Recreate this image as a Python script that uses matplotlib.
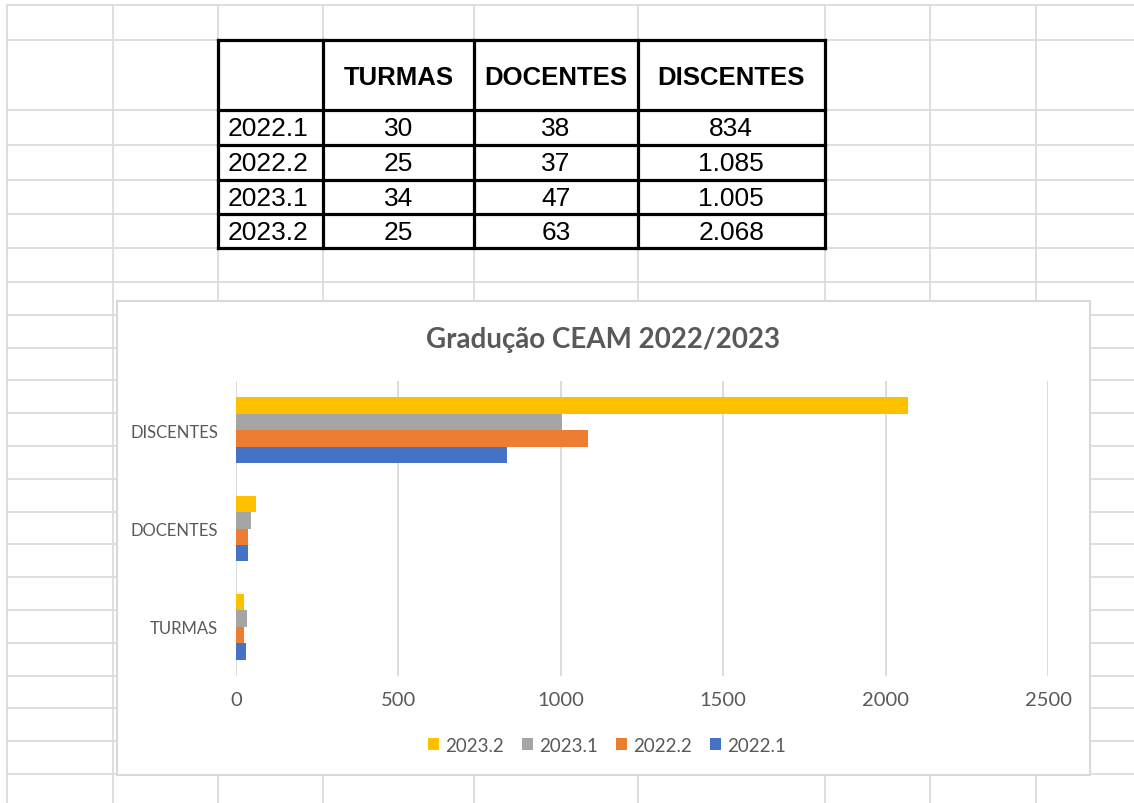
import matplotlib.pyplot as plt
from matplotlib.patches import Rectangle

# Dados da tabela / grafico
semestres = ["2022.1", "2022.2", "2023.1", "2023.2"]
colunas = ["TURMAS", "DOCENTES", "DISCENTES"]
turmas = [30, 25, 34, 25]
docentes = [38, 37, 47, 63]
discentes = [834, 1085, 1005, 2068]
cores = ["#4472C4", "#ED7D31", "#A5A5A5", "#FFC000"]
xticks = [0, 500, 1000, 1500, 2000, 2500]

W, H = 1134, 804
fig = plt.figure(figsize=(W / 100, H / 100), dpi=100)

# fundo tipo planilha, em pixels
bg = fig.add_axes([0, 0, 1, 1])
bg.set_xlim(0, W)
bg.set_ylim(H, 0)
bg.axis("off")

grid_c = "#dcdcdc"
linhas_y = [6, 41, 111, 146, 180.5, 214.5, 249, 283]
for k in range(1, 17):
    linhas_y.append(283 + 32.8 * k)
colunas_x = [7, 113, 218, 323, 474, 638, 825, 930, 1036]
for y in linhas_y:
    bg.plot([7, W], [y, y], color=grid_c, lw=1.3, zorder=1)
for x in colunas_x:
    bg.plot([x, x], [6, H], color=grid_c, lw=1.3, zorder=1)

# tabela
tx = [218, 323, 474, 638, 824.5]
ty = [40.7, 111, 146, 180.5, 214.5, 248.5]
bg.add_patch(Rectangle((tx[0], ty[0]), tx[-1] - tx[0], ty[-1] - ty[0],
                       facecolor="white", edgecolor="none", zorder=2))
for x in tx:
    bg.plot([x, x], [ty[0], ty[-1]], color="black", lw=2.3, zorder=3,
            solid_capstyle="projecting")
for y in ty:
    bg.plot([tx[0], tx[-1]], [y, y], color="black", lw=2.3, zorder=3,
            solid_capstyle="projecting")

for j, nome in enumerate(colunas):
    bg.text((tx[j + 1] + tx[j + 2]) / 2, (ty[0] + ty[1]) / 2 + 2, nome,
            ha="center", va="center", family="Liberation Sans",
            weight="bold", fontsize=18.5, zorder=4)

valores = [turmas, docentes, discentes]
for i, sem in enumerate(semestres):
    yc = (ty[i + 1] + ty[i + 2]) / 2 + 1
    bg.text(tx[0] + 10, yc, sem, ha="left", va="center",
            family="Liberation Sans", fontsize=19, zorder=4)
    for j in range(3):
        txt = f"{valores[j][i]:,}".replace(",", ".")
        bg.text((tx[j + 1] + tx[j + 2]) / 2, yc, txt, ha="center",
                va="center", family="Liberation Sans", fontsize=19, zorder=4)

# caixa do grafico
bg.add_patch(Rectangle((117, 302), 1090 - 117, 776 - 302, facecolor="white",
                       edgecolor="#d9d9d9", lw=1.5, zorder=5))

cinza = "#595959"
fig.text(603 / W, 1 - 340 / H, "Gradução CEAM 2022/2023", ha="center",
         va="center", family="Lato", weight="bold", fontsize=20, color=cinza)

ax = fig.add_axes([236 / W, 1 - 677 / H, (1048 - 236) / W, (677 - 382) / H])
ax.patch.set_alpha(0)
ax.set_zorder(6)

h = 1 / 6
dados = [[turmas[i], docentes[i], discentes[i]] for i in range(4)]
for i, sem in enumerate(semestres):
    pos = [c + (i - 1.5) * h for c in range(3)]
    ax.barh(pos, dados[i], height=h, color=cores[i], label=sem, zorder=3)

ax.set_xlim(0, 2500)
ax.set_ylim(-0.5, 2.5)
ax.set_xticks(xticks)
ax.set_xticklabels([str(v) for v in xticks])
ax.set_yticks(range(3))
ax.set_yticklabels(colunas)
ax.grid(axis="x", color="#d9d9d9", lw=1.3, zorder=0)
ax.tick_params(length=0, colors=cinza)
ax.tick_params(axis="x", pad=11, labelsize=14.5)
ax.tick_params(axis="y", pad=13, labelsize=12)
for lab in ax.get_xticklabels() + ax.get_yticklabels():
    lab.set_family("Lato")
for s in ax.spines.values():
    s.set_visible(False)

hs, ls = ax.get_legend_handles_labels()
leg = fig.legend(hs[::-1], ls[::-1], loc="center", ncol=4, frameon=False,
                 bbox_to_anchor=(607 / W, 1 - 746 / H),
                 handlelength=0.6, handleheight=0.6, handletextpad=0.32,
                 columnspacing=0.95, prop={"family": "Lato", "size": 13.5})
for t in leg.get_texts():
    t.set_color(cinza)
leg.set_zorder(7)

fig.savefig("out.png", dpi=100)
